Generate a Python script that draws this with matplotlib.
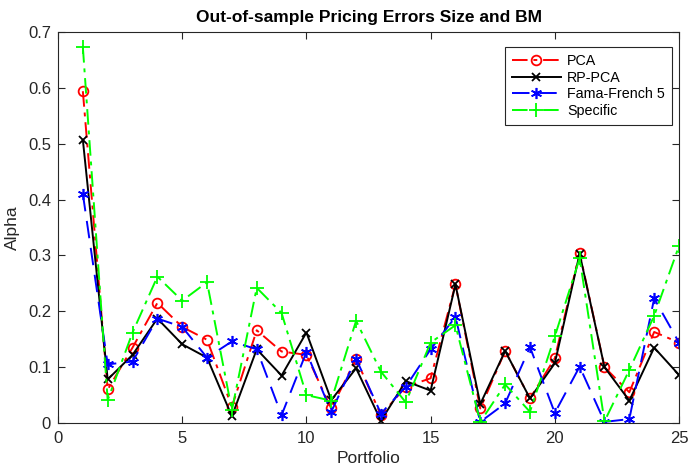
import numpy as np
import matplotlib
matplotlib.use("Agg")
import matplotlib.pyplot as plt

plt.rcParams['font.family'] = ['Liberation Sans', 'DejaVu Sans']

portfolio = np.arange(1, 26)

pca = [0.594, 0.060, 0.135, 0.215, 0.172, 0.149, 0.029, 0.166, 0.128, 0.122,
       0.026, 0.115, 0.014, 0.065, 0.080, 0.248, 0.026, 0.129, 0.044, 0.116,
       0.305, 0.100, 0.055, 0.163, 0.144]
rp_pca = [0.507, 0.078, 0.122, 0.187, 0.141, 0.117, 0.012, 0.132, 0.085, 0.162,
          0.041, 0.098, 0.004, 0.075, 0.058, 0.248, 0.034, 0.129, 0.044, 0.107,
          0.303, 0.100, 0.040, 0.135, 0.086]
ff5 = [0.410, 0.105, 0.110, 0.187, 0.172, 0.117, 0.146, 0.132, 0.014, 0.127,
       0.020, 0.115, 0.017, 0.065, 0.132, 0.190, 0.002, 0.035, 0.136, 0.018,
       0.101, 0.002, 0.007, 0.223, 0.144]
specific = [0.673, 0.041, 0.162, 0.262, 0.219, 0.252, 0.023, 0.242, 0.197, 0.050,
            0.040, 0.183, 0.092, 0.037, 0.144, 0.175, 0.002, 0.069, 0.020, 0.155,
            0.295, 0.003, 0.095, 0.192, 0.317]

fig = plt.figure(figsize=(6.89, 4.67), dpi=100)
ax = fig.add_axes([0.0842, 0.0942, 0.9013, 0.8373])

lw = 1.4
ax.plot(portfolio, pca, color='red', linestyle='-.', marker='o', mfc='none',
        ms=7, mew=1.3, lw=lw, label='PCA', dashes=(8, 3, 2, 3))
ax.plot(portfolio, rp_pca, color='black', linestyle='-', marker='x',
        ms=6, mew=1.3, lw=lw, label='RP-PCA')
ax.plot(portfolio, ff5, color='blue', linestyle='--', marker=(6, 2, 0),
        ms=8, mew=1.2, lw=lw, label='Fama-French 5', dashes=(9, 5))
ax.plot(portfolio, specific, color=(0, 1, 0), linestyle='-.', marker='+',
        ms=10, mew=1.3, lw=lw, label='Specific', dashes=(8, 3, 2, 3))

ax.set_xlim(0, 25)
ax.set_ylim(0, 0.7)
ax.set_xticks(np.arange(0, 26, 5))
ax.set_yticks(np.arange(0, 0.71, 0.1))
ax.set_yticklabels(['0', '0.1', '0.2', '0.3', '0.4', '0.5', '0.6', '0.7'])

axis_color = '#262626'
for s in ax.spines.values():
    s.set_color(axis_color)
    s.set_linewidth(0.8)
ax.tick_params(direction='in', top=True, right=True, length=5,
               color=axis_color, labelcolor=axis_color, labelsize=12)
ax.tick_params(axis='x', pad=6)
ax.tick_params(axis='y', pad=5)

ax.set_xlabel('Portfolio', fontsize=12.5, color=axis_color, labelpad=3)
ax.set_ylabel('Alpha', fontsize=12.5, color=axis_color, labelpad=6)
ax.set_title('Out-of-sample Pricing Errors Size and BM', fontsize=12.5,
             fontweight='bold', pad=7)

leg = ax.legend(loc='upper right', bbox_to_anchor=(0.9887, 0.9616),
                borderaxespad=0, fontsize=10.3,
                fancybox=False, framealpha=1, edgecolor=axis_color,
                handlelength=3.4, borderpad=0.5, labelspacing=0.18,
                handletextpad=0.45)
leg.get_frame().set_linewidth(0.8)

fig.savefig('out.png', dpi=100)
